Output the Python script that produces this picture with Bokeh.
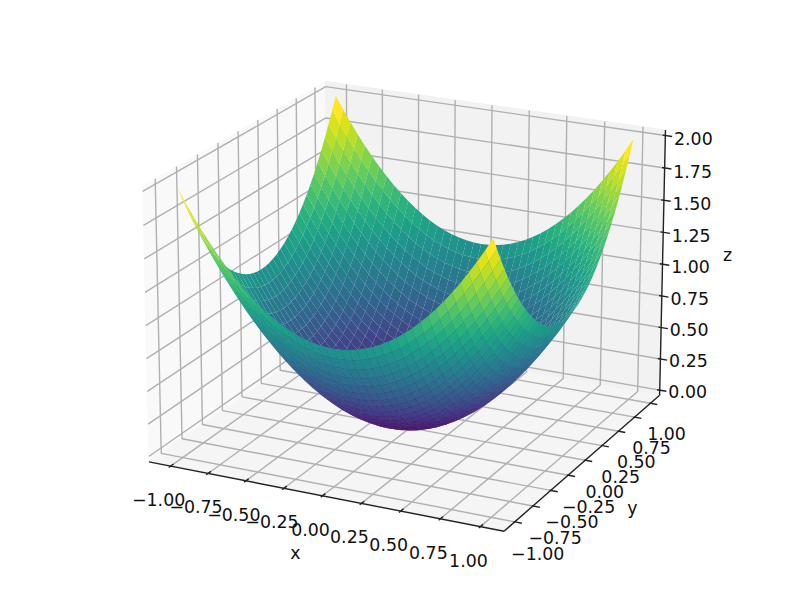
import numpy as np
from bokeh.plotting import figure
from bokeh.models import ColumnDataSource
from bokeh.core.properties import value
from bokeh.palettes import Viridis256
from bokeh.embed import file_html
from bokeh.resources import INLINE

grid_x = [-1.00,-0.95,-0.90,-0.85,-0.80,-0.75,-0.70,-0.65,-0.60,-0.55,-0.50,-0.45,-0.40,-0.35,-0.30,-0.25,-0.20,-0.15,-0.10,-0.05,0.00,
          0.05,0.10,0.15,0.20,0.25,0.30,0.35,0.40,0.45,0.50,0.55,0.60,0.65,0.70,0.75,0.80,0.85,0.90,0.95,1.00]
profile = [1.0000,0.9025,0.8100,0.7225,0.6400,0.5625,0.4900,0.4225,0.3600,0.3025,0.2500,0.2025,0.1600,0.1225,0.0900,0.0625,0.0400,0.0225,0.0100,0.0025,0.0000,
           0.0025,0.0100,0.0225,0.0400,0.0625,0.0900,0.1225,0.1600,0.2025,0.2500,0.3025,0.3600,0.4225,0.4900,0.5625,0.6400,0.7225,0.8100,0.9025,1.0000]
xy_ticks = [-1.0,-0.75,-0.5,-0.25,0.0,0.25,0.5,0.75,1.0]
xy_labels = ["\u22121.00","\u22120.75","\u22120.50","\u22120.25","0.00","0.25","0.50","0.75","1.00"]
z_ticks = [0.0,0.25,0.5,0.75,1.0,1.25,1.5,1.75,2.0]
z_labels = ["0.00","0.25","0.50","0.75","1.00","1.25","1.50","1.75","2.00"]

ELEV, AZIM, ZBOX, DIST = 19.0, -64.0, 0.70, 10.0
LIM = 1.1
ZMAX = 2.0
E = 1/48
SX, TX, SY, TY = 3708.0, 409.5, -3924.0, 293.7

el, az = np.radians(ELEV), np.radians(AZIM)
R = np.array([.5, .5, ZBOX/2])
n = np.array([np.cos(el)*np.cos(az), np.cos(el)*np.sin(az), np.sin(el)])
u = np.cross([0, 0, 1], n); u = u/np.linalg.norm(u)
v = np.cross(n, u)

def wx(a):
    return (np.asarray(a, float)+LIM)/(2*LIM)
def wz(a):
    return np.asarray(a, float)/ZMAX

def proj(wxv, wyv, wzv):
    q = np.stack([np.broadcast_to(wxv, np.broadcast(wxv, wyv, wzv).shape),
                  np.broadcast_to(wyv, np.broadcast(wxv, wyv, wzv).shape),
                  np.broadcast_to(wzv, np.broadcast(wxv, wyv, wzv).shape)*ZBOX], -1) - R
    w = DIST - q @ n
    return TX + SX*(q @ u)/w, TY + SY*(q @ v)/w, w

lo, hi = -E, 1+E

p = figure(width=784, height=584, x_range=(0, 784), y_range=(584, 0), toolbar_location=None,
           output_backend="svg", min_border=0, outline_line_color=None)
p.xaxis.visible = False
p.yaxis.visible = False
p.xgrid.visible = False
p.ygrid.visible = False

def poly(corners):
    c = np.array(corners, float)
    x, y, _ = proj(c[:, 0], c[:, 1], c[:, 2])
    return x.tolist(), y.tolist()

# panes
px, py = [], []
for cs in ([(lo,lo,lo),(lo,hi,lo),(lo,hi,hi),(lo,lo,hi)],
           [(lo,hi,lo),(hi,hi,lo),(hi,hi,hi),(lo,hi,hi)],
           [(lo,lo,lo),(hi,lo,lo),(hi,hi,lo),(lo,hi,lo)]):
    a, b = poly(cs); px.append(a); py.append(b)
p.patches(px, py, fill_color=["#f9f9f9", "#f2f2f2", "#f5f5f5"], line_color=["#f9f9f9", "#f2f2f2", "#f5f5f5"], line_width=1)

# grid
gx, gy = [], []
for t in xy_ticks:
    a, b = poly([(wx(t),lo,lo),(wx(t),hi,lo),(wx(t),hi,hi)]); gx.append(a); gy.append(b)
    a, b = poly([(hi,wx(t),lo),(lo,wx(t),lo),(lo,wx(t),hi)]); gx.append(a); gy.append(b)
for t in z_ticks:
    a, b = poly([(lo,lo,wz(t)),(lo,hi,wz(t)),(hi,hi,wz(t))]); gx.append(a); gy.append(b)
p.multi_line(gx, gy, line_color="#b0b0b0", line_width=1.4)

# axis lines
ax, ay = [], []
for cs in ([(lo,lo,lo),(hi,lo,lo)], [(hi,lo,lo),(hi,hi,lo)], [(hi,hi,lo),(hi,hi,hi)]):
    a, b = poly(cs); ax.append(a); ay.append(b)

# ticks and labels
tx, ty = [], []
lx, ly, lt = [], [], []
for t, s in zip(xy_ticks, xy_labels):
    a, b = poly([(wx(t),lo+0.016,lo),(wx(t),lo-0.010,lo)]); tx.append(a); ty.append(b)
    c, d, _ = proj(wx(t), lo, lo); lx.append(float(c)-12); ly.append(float(d)+33.5); lt.append(s)
    a, b = poly([(hi-0.003,wx(t),lo),(hi+0.020,wx(t),lo)]); tx.append(a); ty.append(b)
    c, d, _ = proj(hi, wx(t), lo); lx.append(float(c)+23-3.5*(t+1)); ly.append(float(d)+32-1*(t+1)); lt.append(s)
for t, s in zip(z_ticks, z_labels):
    a, b = poly([(hi-0.008,hi,wz(t)),(hi+0.020,hi,wz(t))]); tx.append(a); ty.append(b)
    c, d, _ = proj(hi, hi, wz(t)); lx.append(float(c)+28); ly.append(float(d)+1.5+t); lt.append(s)
p.multi_line(ax, ay, line_color="#222222", line_width=1.4)
p.multi_line(tx, ty, line_color="#222222", line_width=1.4)
font = value("DejaVu Sans")
p.text(lx, ly, text=lt, text_font=font, text_font_size="17.4px", text_align="center",
       text_baseline="middle", text_color="#111111")
p.text([295, 632, 727], [552, 507, 254], text=["x", "y", "z"], text_font=font, text_font_size="17.4px",
       text_align="center", text_baseline="middle", text_color="#111111")

# surface
gxa = np.array(grid_x); pr = np.array(profile)
Xg, Yg = np.meshgrid(gxa, gxa, indexing="ij")
Zg = pr[:, None] + pr[None, :]
PX, PY, PW = proj(wx(Xg), wx(Yg), wz(Zg))
faces = []
N = len(grid_x)-1
avg = (Zg[:-1,:-1]+Zg[1:,:-1]+Zg[1:,1:]+Zg[:-1,1:])/4
zmin, zmax = avg.min(), avg.max()
for i in range(N):
    for j in range(N):
        idx = [(i,j),(i+1,j),(i+1,j+1),(i,j+1)]
        depth = np.mean([PW[k] for k in idx])
        c = Viridis256[int(round((avg[i,j]-zmin)/(zmax-zmin)*255))]
        faces.append((depth, [float(PX[k]) for k in idx], [float(PY[k]) for k in idx], c))
faces.sort(key=lambda f: -f[0])
src = ColumnDataSource(dict(xs=[f[1] for f in faces], ys=[f[2] for f in faces], c=[f[3] for f in faces]))
p.patches("xs", "ys", source=src, fill_color="c", line_color=None)

open("out.html", "w").write(file_html(p, INLINE))
